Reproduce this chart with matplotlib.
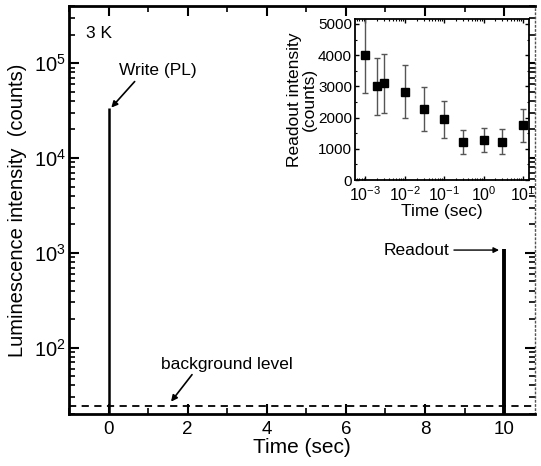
import numpy as np
import matplotlib
matplotlib.use("Agg")
import matplotlib.pyplot as plt
from matplotlib.ticker import LogLocator, NullFormatter, MultipleLocator

plt.rcParams['font.family'] = ['Liberation Sans', 'DejaVu Sans']
plt.rcParams['mathtext.fontset'] = 'custom'
plt.rcParams['mathtext.rm'] = 'Liberation Sans'

# main trace: write pulse and readout pulse
pulse_times = [0, 10]
pulse_peaks = [3.4e4, 1.1e3]
pulse_widths = [1.8, 2.8]
background = 24

# inset: readout intensity vs delay time
delay = [1e-3, 2e-3, 3e-3, 1e-2, 3e-2, 1e-1, 3e-1, 1, 3, 10]
readout = [4000, 3000, 3100, 2830, 2280, 1950, 1220, 1280, 1230, 1760]
readout_err = [1200, 920, 950, 850, 700, 590, 390, 390, 390, 530]

fig = plt.figure(figsize=(5.41, 4.66), dpi=100)
ax = fig.add_axes([0.1275, 0.1116, 0.8615, 0.8754])

ymin, ymax = 20, 4e5
for t, p, w in zip(pulse_times, pulse_peaks, pulse_widths):
    ax.vlines(t, ymin, p, color='black', lw=w)
ax.axhline(background, color='black', lw=1.3, ls=(0, (4, 3)))

ax.set_yscale('log')
ax.set_xlim(-1, 10.78)
ax.set_ylim(ymin, ymax)
ax.set_xticks([0, 2, 4, 6, 8, 10])
ax.xaxis.set_minor_locator(MultipleLocator(1))
ax.yaxis.set_major_locator(LogLocator(base=10, numticks=10))
ax.yaxis.set_minor_locator(LogLocator(base=10, subs=np.arange(2, 10), numticks=20))
ax.yaxis.set_minor_formatter(NullFormatter())
ax.tick_params(which='both', direction='in', top=True, right=True)
ax.tick_params(axis='x', labelsize=13.5, pad=5)
ax.tick_params(axis='y', labelsize=14.5, pad=2)
ax.tick_params(which='major', length=7, width=1.5)
ax.tick_params(which='minor', length=4, width=1.2)
for s in ['left', 'bottom', 'top']:
    ax.spines[s].set_linewidth(2)
ax.spines['right'].set_linewidth(1)
ax.spines['right'].set_linestyle((0, (1, 2)))
ax.spines['right'].set_color('#555555')

ax.set_xlabel('Time (sec)', fontsize=15, labelpad=0)
ax.set_ylabel('Luminescence intensity  (counts)', fontsize=14.5, labelpad=5)

ax.text(-0.57, 2.07e5, '3 K', fontsize=12.5, va='center', ha='left')
ax.annotate('', xy=(0.07, 3.4e4), xytext=(0.66, 6.4e4),
            arrowprops=dict(arrowstyle='-|>', color='black', lw=1.2,
                            mutation_scale=9, shrinkA=0, shrinkB=0))
ax.text(0.27, 8.4e4, 'Write (PL)', fontsize=12.5, va='center', ha='left')
ax.annotate('', xy=(1.58, 27), xytext=(2.11, 52),
            arrowprops=dict(arrowstyle='-|>', color='black', lw=1.2,
                            mutation_scale=9, shrinkA=0, shrinkB=0))
ax.text(1.33, 66, 'background level', fontsize=12.5, va='center', ha='left')
ax.annotate('', xy=(9.87, 1.07e3), xytext=(8.73, 1.07e3),
            arrowprops=dict(arrowstyle='-|>', color='black', lw=1.0,
                            mutation_scale=8, shrinkA=0, shrinkB=0))
ax.text(8.62, 1.07e3, 'Readout', fontsize=12.5, va='center', ha='right')

# inset
ins = fig.add_axes([0.656, 0.6137, 0.3224, 0.3449])
ins.errorbar(delay, readout, yerr=readout_err, fmt='s', color='black',
             ms=6, ecolor='#555555', elinewidth=1.0, capsize=2, capthick=1.0)
ins.set_xscale('log')
ins.set_xlim(5.4e-4, 14.5)
ins.set_ylim(0, 5150)
ins.set_yticks([0, 1000, 2000, 3000, 4000, 5000])
ins.xaxis.set_major_locator(LogLocator(base=10, numticks=10))
ins.xaxis.set_minor_locator(LogLocator(base=10, subs=np.arange(2, 10), numticks=20))
ins.xaxis.set_minor_formatter(NullFormatter())
ins.yaxis.set_minor_locator(MultipleLocator(500))
ins.tick_params(which='both', direction='in', top=True, right=True)
ins.tick_params(axis='y', labelsize=11, pad=2)
ins.tick_params(axis='x', labelsize=11.5, pad=4)
ins.tick_params(which='major', length=3, width=1)
ins.tick_params(which='minor', length=1.5, width=0.8)
for s in ins.spines.values():
    s.set_linewidth(1.3)
ins.set_xlabel('Time (sec)', fontsize=12.5, labelpad=0)
ins.set_ylabel('Readout intensity\n(counts)', fontsize=12.5, labelpad=1, linespacing=1.0)

fig.savefig('out.png', dpi=100)
